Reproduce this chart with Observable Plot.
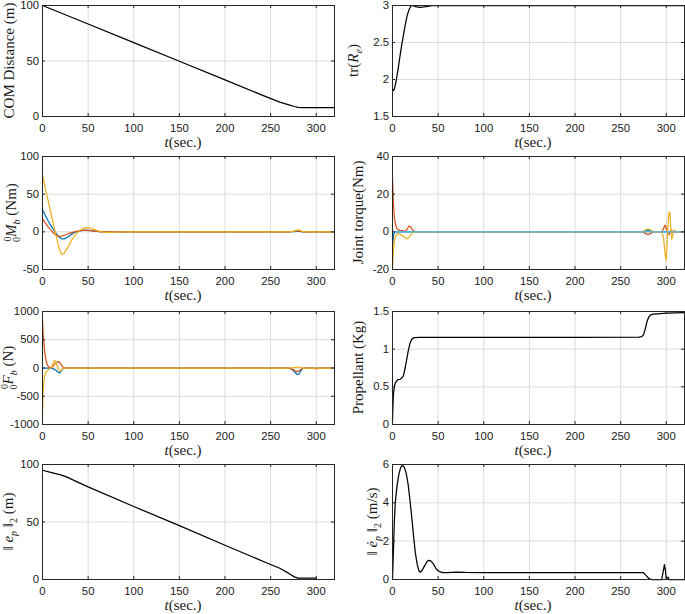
<!DOCTYPE html>
<html><head><meta charset="utf-8">
<script src="https://cdn.jsdelivr.net/npm/d3@7"></script>
<script src="https://cdn.jsdelivr.net/npm/@observablehq/plot@0.6"></script>
<style>
body{margin:0;background:#fff}
#wrap{position:relative;width:685px;height:614px;overflow:hidden}
#wrap > svg{position:absolute}
</style></head><body><div id="wrap"></div>
<script>
// ---------- data ----------
const xTicks = [0, 50, 100, 150, 200, 250, 300];

// COM distance
const comT = [0, 50, 100, 150, 200, 240, 260, 270, 276, 280, 285, 320];
const comD = [100, 83.3, 66.6, 49.8, 33, 19.5, 13, 10.5, 9, 8.2, 8, 8];

// tr(R_e)
const trT = [0, 1, 2, 4, 6, 8, 10, 12, 14, 16, 18, 20, 22, 25, 30, 35, 40, 45, 320];
const trV = [1.87, 1.85, 1.87, 1.98, 2.13, 2.3, 2.46, 2.6, 2.74, 2.86, 2.94, 2.99, 3.0, 2.985, 2.975, 2.98, 2.993, 3.0, 3.0];

// M_b (three components)
const mT = [0, 3, 6, 9, 12, 15, 18, 21, 24, 28, 32, 36, 40, 44, 48, 52, 56, 60, 65, 70, 75, 80, 90, 100, 270, 275, 278, 281, 284, 287, 320];
const mBlue = [29.5, 22, 15, 8.5, 3, -2, -7, -9.5, -9.5, -6.5, -3, -0.5, 1, 2, 2.3, 2, 1.2, 0.5, 0, -0.2, -0.2, -0.1, 0, 0, 0, 0.2, 0.6, 0.5, 0.2, 0, 0];
const mOrange = [17.6, 12, 7, 2.5, -1.5, -4.5, -6, -5.8, -4.5, -2.5, -1, 0.3, 1.2, 1.8, 2, 1.7, 1.1, 0.5, 0, -0.2, -0.2, -0.1, 0, 0, 0, 0.5, 1.5, 1.2, 0.4, 0, 0];
const mYellow = [76, 58, 42, 26, 10, -6, -21, -30, -28, -20, -11, -4, 1, 4.2, 5.6, 5.2, 3.5, 1.6, 0, -0.8, -0.8, -0.4, 0, 0, 0, 0.5, 2, 2.5, 1, 0, 0];

// Joint torque
const jT = [0, 1, 2, 3, 5, 8, 11, 14, 16, 18, 20, 22, 25, 30, 274, 277, 280, 283, 286, 295, 297, 298, 299, 300, 301, 302, 303, 304, 305, 306, 307, 308, 309, 311, 320];
const jBlue = [-8, -2, -0.5, 0, 0, 0, 0, 0, 0, 0, 0, 0, 0, 0, 0, 0.4, 0.8, 0.4, 0, 0, 0, 0, 0, 0, 0, 0, 0, 0, 0, 0, 0, 0, 0, 0, 0];
const jOrange = [28.5, 15, 8, 4.5, 1.5, 0.8, 0.6, 0.3, 1.5, 3, 2.6, 1, 0, 0, 0, -0.8, -1.5, -0.8, 0, 0, 1.5, 3, 3.5, 2, 0, -1, -1.5, -0.5, 1, 0.5, -0.5, 0, 0, 0, 0];
const jYellow = [-19.6, -10, -5, -2.7, -1, -1.2, -2, -3.2, -3.6, -3, -1.5, -0.5, 0, 0, 0, 1, 1.5, 1, 0, 0, -3, -8, -13, -15, -5, 5, 10.5, 10, 2, -4, -2, 1, 0.5, 0, 0];
const jLightBlue = [0, 0, 0, 0, 0, 0, 0, 0, 0, 0, 0, 0, 0, 0, 0, 0, 0, 0, 0, 0, 0, 0, 0, 0, 0, 0, 0, 0, 0, 0, 0, 0, 0, 0, 0];

// F_b (three components)
const fT = [0, 0.5, 1, 2, 3, 4, 5, 7, 9, 11, 13, 15, 17, 19, 21, 23, 25, 270, 274, 277, 279, 281, 283, 285, 287, 296, 299, 301, 303, 320];
const fBlue = [0, 0, 0, 0, 0, 0, 0, 0, 0, -10, -25, -45, -75, -85, -40, -5, 0, 0, -30, -80, -115, -110, -50, -10, 0, 0, 0, 0, 0, 0];
const fOrange = [846, 680, 540, 360, 230, 130, 65, 15, 5, 25, 60, 95, 115, 95, 45, 5, 0, 0, -20, -50, -65, -55, -25, -5, 0, 0, -10, -15, 0, 0];
const fYellow = [-790, -550, -350, -180, -100, -70, -50, -25, 0, 50, 135, 90, -10, -60, -30, 0, 0, 0, 5, 10, 15, 15, 5, 0, 0, 0, 0, 0, 0, 0];

// Propellant
const pT = [0, 0.5, 1, 2, 3, 4.7, 6, 8.3, 10, 12, 14, 17, 19, 21, 23.5, 30, 100, 200, 270, 273, 275, 277, 279, 281, 283, 286, 290, 300, 320];
const pV = [0.05, 0.25, 0.4, 0.5, 0.55, 0.58, 0.595, 0.6, 0.615, 0.65, 0.76, 0.96, 1.07, 1.13, 1.152, 1.155, 1.155, 1.158, 1.16, 1.165, 1.19, 1.27, 1.37, 1.43, 1.455, 1.465, 1.47, 1.478, 1.485];

// ||e_p||
const eT = [0, 10, 20, 27, 35, 50, 100, 150, 200, 244, 260, 270, 276, 280, 300];
const eV = [95, 93, 91, 89, 86, 80.5, 63.5, 46.8, 29.8, 15, 9.8, 5.3, 2.3, 1.2, 1.2];

// ||e_p dot||
const vT = [0, 1, 2, 3, 5, 7, 9, 11, 13, 15, 17, 19, 21, 23, 25, 27, 29, 30, 32, 35, 38, 40, 42, 45, 48, 51, 55, 60, 70, 80, 100, 275, 278, 281, 284, 295, 297, 298, 299, 300, 302, 303, 320];
const vV = [0, 1.5, 3, 4, 4.9, 5.5, 5.85, 5.95, 5.85, 5.55, 5, 4.2, 3.3, 2.3, 1.4, 0.8, 0.45, 0.38, 0.45, 0.7, 0.95, 1.0, 0.97, 0.8, 0.55, 0.42, 0.36, 0.36, 0.39, 0.37, 0.36, 0.36, 0.2, 0.05, 0, 0, 0.5, 0.78, 0.5, 0.05, 0.12, 0, 0];

// colours
const cBlack = "#000000", cBlue = "#0072BD", cOrange = "#D95319", cYellow = "#EDB120", cLightBlue = "#4DBEEE";

// ---------- layout ----------
const rowTop = [5, 156, 311, 464];
const rowBottom = [116, 269, 424, 579];
const colX = [0, 340], colW = [340, 345], colML = [42, 52], colMR = [6, 1];
const MT = 5, MB = 40;
const serif = "'Liberation Serif','Times New Roman',serif";
const wrap = document.getElementById("wrap");

const zip = (t, v) => t.map((d, i) => ({t: d, v: v[i]}));

const panels = [
  {row:0, col:0, y:[0,100], yt:[0,50,100], series:[[comT, comD, cBlack]], lx:14,
   label:[{t:"COM Distance (m)"}]},
  {row:0, col:1, y:[1.5,3], yt:[1.5,2,2.5,3], series:[[trT, trV, cBlack]], lx:18,
   label:[{t:"tr("},{t:"R",i:1},{t:"e",i:1,sub:1},{t:")"}]},
  {row:1, col:0, y:[-50,100], yt:[-50,0,50,100], series:[[mT,mBlue,cBlue],[mT,mOrange,cOrange],[mT,mYellow,cYellow]], lx:16,
   label:[{t:"0",sup:1},{t:"0",sub:1,dx:-5.5},{t:"M",i:1},{t:"b",i:1,sub:1},{t:" (Nm)"}]},
  {row:1, col:1, y:[-20,40], yt:[-20,0,20,40], series:[[jT,jBlue,cBlue],[jT,jOrange,cOrange],[jT,jYellow,cYellow],[jT,jLightBlue,cLightBlue]], lx:23,
   label:[{t:"Joint torque(Nm)"}]},
  {row:2, col:0, y:[-1000,1000], yt:[-1000,-500,0,500,1000], series:[[fT,fBlue,cBlue],[fT,fOrange,cOrange],[fT,fYellow,cYellow]], lx:13,
   label:[{t:"0",sup:1},{t:"0",sub:1,dx:-5.5},{t:"F",i:1},{t:"b",i:1,sub:1},{t:" (N)"}]},
  {row:2, col:1, y:[0,1.5], yt:[0,0.5,1,1.5], series:[[pT,pV,cBlack]], lx:23,
   label:[{t:"Propellant (Kg)"}]},
  {row:3, col:0, y:[0,100], yt:[0,50,100], series:[[eT,eV,cBlack]], lx:13,
   label:[{t:"\u2016 "},{t:"e",i:1},{t:"p",i:1,sub:1},{t:" \u2016"},{t:"2",sub:1},{t:" (m)"}]},
  {row:3, col:1, y:[0,6], yt:[0,2,4,6], series:[[vT,vV,cBlack]], lx:37,
   label:[{t:"\u2016 "},{t:"\u0117",i:1},{t:"p",i:1,sub:1},{t:" \u2016"},{t:"2",sub:1},{t:" (m/s)"}]},
];

function addText(svg, x, y, parts, rotate) {
  const txt = d3.select(svg).append("text")
    .attr("transform", `translate(${x},${y})` + (rotate ? " rotate(-90)" : ""))
    .attr("text-anchor", "middle")
    .attr("font-family", serif)
    .attr("font-size", 15)
    .attr("fill", "#1a1a1a")
    .style("white-space", "pre");
  let off = 0;
  for (const p of parts) {
    let target = p.sub ? 4 : p.sup ? -5 : 0;
    const ts = txt.append("tspan").text(p.t).attr("dy", target - off);
    off = target;
    if (p.dx) ts.attr("dx", p.dx);
    if (p.i) ts.attr("font-style", "italic");
    if (p.sub || p.sup) ts.attr("font-size", 10);
  }
}

for (const p of panels) {
  const plotH = rowBottom[p.row] - rowTop[p.row];
  const W = colW[p.col];
  const plotW = W - colML[p.col] - colMR[p.col];
  const lineMarks = p.series.map(([t, v, c]) =>
    Plot.line(zip(t, v), {x: "t", y: "v", stroke: c, strokeWidth: 1.25}));
  const svg = Plot.plot({
    width: W,
    height: plotH + MT + MB,
    marginTop: MT, marginBottom: MB,
    marginLeft: colML[p.col], marginRight: colMR[p.col],
    x: {domain: [0, 320]},
    y: {domain: p.y},
    style: {fontFamily: "'Liberation Sans', Arial, Helvetica, sans-serif", fontSize: "11.3px", color: "#1a1a1a", background: "transparent", overflow: "visible"},
    marks: [
      Plot.gridX(xTicks, {stroke: "#dcdcdc", strokeOpacity: 1}),
      Plot.gridY(p.yt, {stroke: "#dcdcdc", strokeOpacity: 1}),
      ...lineMarks,
      Plot.frame({stroke: "#262626"}),
      Plot.ruleX(xTicks, {stroke: "#262626", insetTop: plotH - 3}),
      Plot.ruleX(xTicks, {stroke: "#262626", insetBottom: plotH - 3}),
      Plot.ruleY(p.yt, {stroke: "#262626", insetRight: plotW - 3}),
      Plot.ruleY(p.yt, {stroke: "#262626", insetLeft: plotW - 3}),
      Plot.axisX(xTicks, {tickSize: 0, tickPadding: 7, label: null, tickFormat: d => String(d)}),
      Plot.axisY(p.yt, {tickSize: 0, tickPadding: 3.5, label: null, tickFormat: d => String(d)})
    ]
  });
  svg.style.left = colX[p.col] + "px";
  svg.style.top = (rowTop[p.row] - MT) + "px";
  const cx = colML[p.col] + plotW / 2 - 5;
  addText(svg, cx, MT + plotH + 31, [{t:"t", i:1}, {t:"(sec.)"}], false);
  addText(svg, p.lx, MT + plotH / 2, p.label, true);
  wrap.appendChild(svg);
}
</script>
</body></html>
